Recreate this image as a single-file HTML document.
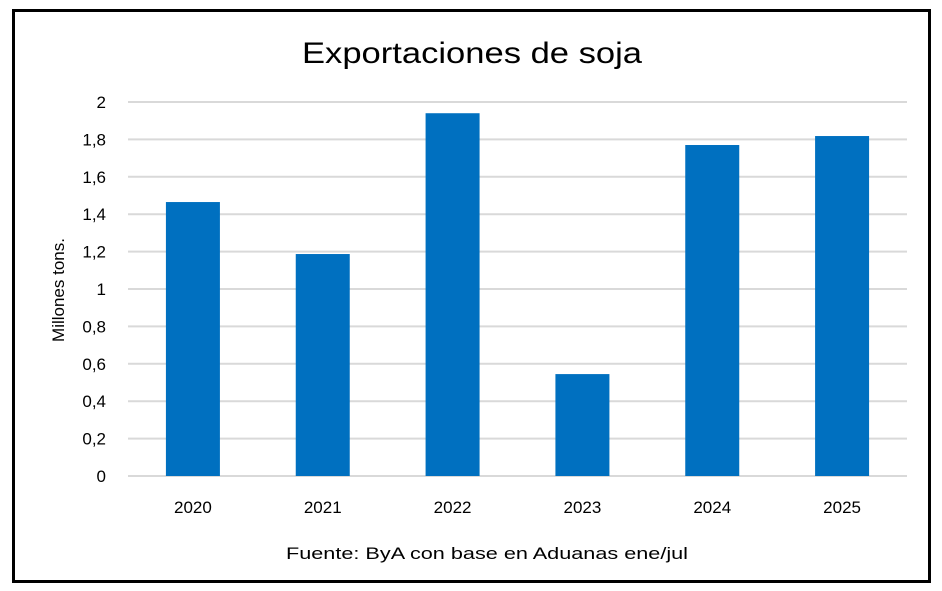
<!DOCTYPE html>
<html><head><meta charset="utf-8"><style>
html,body{margin:0;padding:0;background:#fff;}
svg{display:block;font-family:"Liberation Sans",sans-serif;}
</style></head><body>
<svg id="chart" width="942" height="591" viewBox="0 0 942 591" xmlns="http://www.w3.org/2000/svg">
<rect x="13.5" y="10.5" width="916" height="571" fill="#fff" stroke="#000" stroke-width="3"/>
<text x="472" y="63" font-size="30" text-anchor="middle" textLength="340" lengthAdjust="spacingAndGlyphs" fill="#000">Exportaciones de soja</text>
<text transform="translate(64,290) rotate(-90)" font-size="17" text-anchor="middle" fill="#000">Millones tons.</text>
<g id="grid"></g><g id="bars"></g><g id="ylabels"></g><g id="xlabels"></g>
<text x="487" y="559" font-size="17" text-anchor="middle" textLength="402" lengthAdjust="spacingAndGlyphs" fill="#000">Fuente: ByA con base en Aduanas ene/jul</text>
</svg>
<script>
const categories = ["2020","2021","2022","2023","2024","2025"];
const values = [1.465, 1.187, 1.94, 0.545, 1.77, 1.818];
const yTicks = [0,0.2,0.4,0.6,0.8,1,1.2,1.4,1.6,1.8,2];
const yTickLabels = ["0","0,2","0,4","0,6","0,8","1","1,2","1,4","1,6","1,8","2"];
const NS="http://www.w3.org/2000/svg";
const x0=128,x1=907,y0=476,y1=102,yMax=2;
const band=(x1-x0)/categories.length, barW=54;
const y=v=>y0-(v/yMax)*(y0-y1);
const xc=i=>x0+band*(i+0.5);
function mk(tag,attrs,parent){const e=document.createElementNS(NS,tag);for(const k in attrs)e.setAttribute(k,attrs[k]);document.getElementById(parent).appendChild(e);return e;}
yTicks.forEach((t,i)=>{
  const l=mk('line',{x1:x0,x2:x1,y1:y(t),y2:y(t),stroke:'#d9d9d9','stroke-width':2},'grid');
  
  
  const tx=mk('text',{x:106,y:y(t)+6,'font-size':17,'text-anchor':'end',fill:'#000'},'ylabels');
  tx.textContent=yTickLabels[i];
  
  
});
categories.forEach((c,i)=>{
  const r=mk('rect',{x:xc(i)-barW/2,y:y(values[i]),width:barW,height:y0-y(values[i]),fill:'#0070c0'},'bars');
  
  
  const tx=mk('text',{x:xc(i),y:513,'font-size':17,'text-anchor':'middle',fill:'#000'},'xlabels');
  tx.textContent=c;
  
  
});
</script>
</body></html>
